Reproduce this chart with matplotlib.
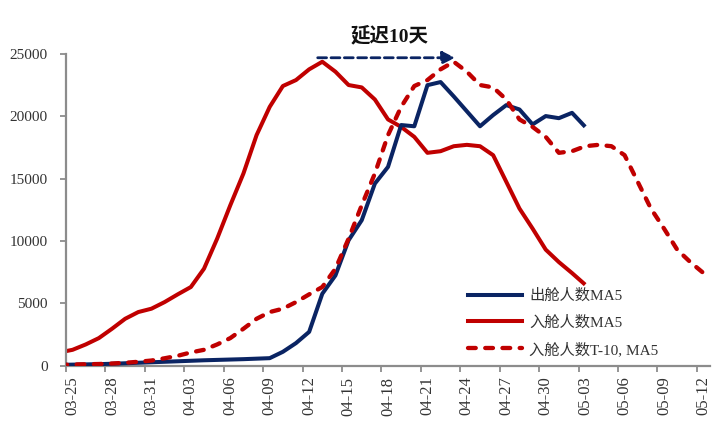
import matplotlib
matplotlib.use("Agg")
import matplotlib.pyplot as plt
import matplotlib.dates as mdates
from matplotlib.lines import Line2D
import pandas as pd

# ---------------- data ----------------
# 入舱人数MA5, daily from 2022-03-14 to 2022-05-03
inflow_start = "2022-03-14"
inflow_ma5 = [40, 80, 100, 120, 160, 220, 300, 400, 580, 780, 1050,
              1260, 1690, 2200, 2950, 3750, 4290, 4560, 5090, 5710, 6300,
              7770, 10180, 12860, 15410, 18490, 20760, 22430, 22910, 23770, 24380,
              23580, 22510, 22320, 21350, 19750, 19150, 18350, 17070, 17200, 17600,
              17710, 17600, 16880, 14740, 12600, 10990, 9300, 8300, 7420, 6490]
# 出舱人数MA5, daily from 2022-03-24 to 2022-05-03
outflow_start = "2022-03-24"
outflow_ma5 = [50, 70, 90, 110, 140, 180, 220, 260, 300, 340, 380,
               420, 450, 480, 510, 550, 590, 1100, 1800, 2700, 5760,
               7230, 10050, 11660, 14600, 15940, 19300, 19200, 22500, 22750, 21600,
               20400, 19200, 20100, 20900, 20550, 19350, 20020, 19850, 20280, 19160]
lag_days = 10

labels = ["出舱人数MA5", "入舱人数MA5", "入舱人数T-10, MA5"]
annot_text = "延迟10天"
tick_first, tick_last = "2022-03-25", "2022-05-12"
x_min, x_max = "2022-03-25", "2022-05-13"
y_ticks = [0, 5000, 10000, 15000, 20000, 25000]

# ---------------- style ----------------
NAVY = "#0A2463"
RED = "#C00000"
AXC = "#8C8C8C"
TXT = "#333333"
LATIN_CJK = ["Liberation Serif", "Noto Sans CJK SC"]

fig = plt.figure(figsize=(7.26, 4.21), dpi=100)
ax = fig.add_axes([0.0909, 0.1318, 0.978 - 0.0909, 0.8717 - 0.1318])

noon = pd.Timedelta(hours=12)
xmax_ts = pd.Timestamp(x_max)
x_in = pd.date_range(inflow_start, periods=len(inflow_ma5), freq="D") + noon
x_out = pd.date_range(outflow_start, periods=len(outflow_ma5), freq="D") + noon
x_lag = x_in + pd.Timedelta(days=lag_days)
keep = x_lag <= xmax_ts
x_lag_in = x_lag[keep]
lag_vals = [v for v, k in zip(inflow_ma5, keep) if k]

lw = 2.9
ax.plot(x_in, inflow_ma5, color=RED, lw=lw, solid_joinstyle="round",
        solid_capstyle="butt", zorder=2)
ax.plot(x_out, outflow_ma5, color=NAVY, lw=lw, solid_joinstyle="round",
        solid_capstyle="butt", zorder=3)
ax.plot(x_lag_in, lag_vals, color=RED, lw=3.1, linestyle=(0, (1.8, 2.2)),
        dash_capstyle="round", dash_joinstyle="round", zorder=4)

ax.set_xlim(pd.Timestamp(x_min), xmax_ts)
ax.set_ylim(0, 25000)
ax.set_yticks(y_ticks)

# tick marks at day boundaries, labels centred on the day
tick_days = pd.date_range(tick_first, tick_last, freq="3D")
ax.set_xticks(tick_days)
ax.set_xticklabels([])
ax.set_xticks(tick_days + noon, minor=True)
ax.xaxis.set_minor_formatter(mdates.DateFormatter("%m-%d"))

for s in ["top", "right"]:
    ax.spines[s].set_visible(False)
for s in ["left", "bottom"]:
    ax.spines[s].set_color(AXC)
    ax.spines[s].set_linewidth(1.6)

ax.tick_params(axis="both", which="major", direction="out", length=4, width=1.3,
               color=AXC, labelcolor=TXT)
ax.tick_params(axis="x", which="minor", length=0, pad=8, labelcolor=TXT)
ax.tick_params(axis="y", pad=9)
for lab in ax.get_yticklabels():
    lab.set_fontfamily("Liberation Serif")
    lab.set_fontsize(11)
for lab in ax.get_xticklabels(minor=True):
    lab.set_fontfamily("Liberation Serif")
    lab.set_fontsize(12)
    lab.set_rotation(90)

# annotation arrow and text
arrow_y = 24700
x0 = pd.Timestamp("2022-03-25") + pd.Timedelta(days=19.15)
x1 = pd.Timestamp("2022-03-25") + pd.Timedelta(days=29.6)
ax.annotate("", xy=(mdates.date2num(x1), arrow_y), xytext=(mdates.date2num(x0), arrow_y),
            arrowprops=dict(arrowstyle="-|>,head_length=0.75,head_width=0.38",
                            color=NAVY, lw=2.0, linestyle=(0, (3.2, 1.6)),
                            shrinkA=0, shrinkB=0), zorder=6, annotation_clip=False)
fig.text(0.536, 0.916, annot_text, ha="center", va="center", fontsize=14,
         fontweight="bold", family=LATIN_CJK, color="#111111")

# legend
handles = [Line2D([], [], color=NAVY, lw=lw),
           Line2D([], [], color=RED, lw=lw),
           Line2D([], [], color=RED, lw=3.1, linestyle=(0, (1.8, 2.2)),
                  dash_capstyle="round")]
leg = ax.legend(handles, labels, loc="lower left", bbox_to_anchor=(0.603, -0.016),
                frameon=False, handlelength=3.5, handletextpad=0.5,
                labelspacing=0.8, prop={"family": LATIN_CJK, "size": 11})
for t in leg.get_texts():
    t.set_color(TXT)

fig.savefig("out.png", dpi=100)
